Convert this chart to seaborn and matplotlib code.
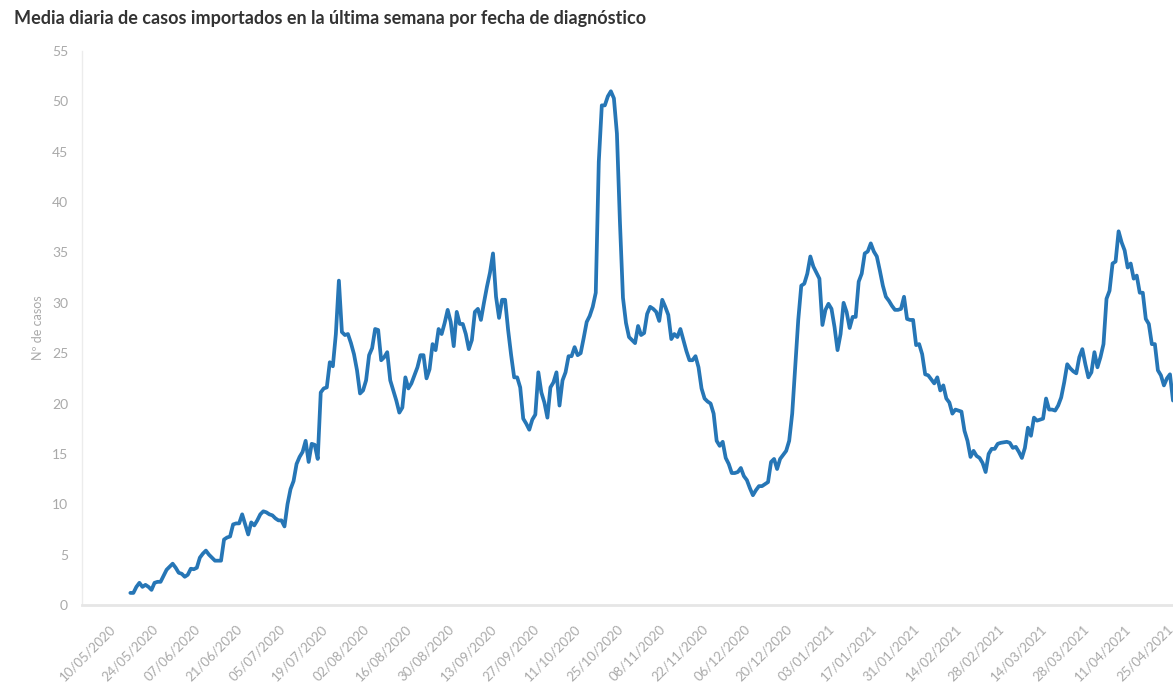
import pandas as pd
import numpy as np
import matplotlib
matplotlib.use('Agg')
import matplotlib.pyplot as plt
import matplotlib.dates as mdates
import seaborn as sns

# --- datos (media diaria de casos importados, 7 días) ---
first_day = '2020-05-17'
cases = [
    1.2, 1.2, 1.8, 2.2, 1.8, 2.0, 1.8, 1.5, 2.2, 2.3,
    2.3, 2.9, 3.5, 3.8, 4.1, 3.7, 3.2, 3.1, 2.8, 3.0,
    3.6, 3.55, 3.7, 4.7, 5.1, 5.4, 5.0, 4.7, 4.4, 4.4,
    4.4, 6.5, 6.7, 6.8, 8.0, 8.1, 8.1, 9.0, 8.0, 7.0,
    8.2, 7.9, 8.4, 9.0, 9.3, 9.2, 9.0, 8.9, 8.6, 8.4,
    8.4, 7.8, 10.0, 11.5, 12.3, 14.0, 14.7, 15.2, 16.3, 14.2,
    16.0, 15.9, 14.5, 21.1, 21.5, 21.6, 24.1, 23.7, 26.9, 32.2,
    27.1, 26.8, 26.9, 26.0, 24.9, 23.3, 21.0, 21.3, 22.3, 24.8,
    25.5, 27.4, 27.3, 24.3, 24.6, 25.1, 22.3, 21.3, 20.3, 19.1,
    19.6, 22.6, 21.5, 22.0, 22.8, 23.6, 24.8, 24.8, 22.5, 23.4,
    25.9, 25.3, 27.4, 26.9, 28.0, 29.3, 28.1, 25.7, 29.1, 27.9,
    27.9, 26.9, 25.4, 26.3, 29.1, 29.4, 28.3, 30.0, 31.6, 33.0,
    34.9, 30.6, 28.5, 30.3, 30.3, 27.3, 24.8, 22.6, 22.6, 21.6,
    18.5, 18.0, 17.4, 18.4, 18.9, 23.1, 21.1, 20.1, 18.6, 21.6,
    22.1, 23.1, 19.8, 22.3, 23.1, 24.7, 24.7, 25.6, 24.8, 25.0,
    26.5, 28.1, 28.7, 29.6, 31.0, 44.0, 49.6, 49.6, 50.5, 51.0,
    50.3, 46.8, 38.0, 30.5, 28.0, 26.6, 26.3, 26.0, 27.7, 26.8,
    27.0, 28.9, 29.6, 29.4, 29.1, 28.2, 30.3, 29.6, 28.8, 26.4,
    26.9, 26.6, 27.4, 26.3, 25.2, 24.3, 24.3, 24.7, 23.6, 21.5,
    20.5, 20.2, 20.0, 19.0, 16.3, 15.8, 16.2, 14.6, 14.0, 13.1,
    13.1, 13.2, 13.6, 12.8, 12.4, 11.6, 10.9, 11.4, 11.8, 11.8,
    12.0, 12.2, 14.2, 14.5, 13.5, 14.5, 14.9, 15.3, 16.3, 19.0,
    23.6, 28.3, 31.7, 31.9, 32.9, 34.6, 33.6, 33.0, 32.4, 27.8,
    29.3, 29.9, 29.4, 27.6, 25.3, 26.9, 30.0, 29.1, 27.5, 28.6,
    28.6, 32.1, 32.9, 34.9, 35.1, 35.9, 35.1, 34.6, 33.2, 31.7,
    30.6, 30.2, 29.7, 29.3, 29.3, 29.4, 30.6, 28.4, 28.3, 28.3,
    25.8, 25.9, 24.9, 22.9, 22.8, 22.4, 22.0, 22.6, 21.3, 21.8,
    20.5, 20.1, 19.0, 19.4, 19.3, 19.2, 17.3, 16.3, 14.7, 15.3,
    14.8, 14.6, 14.1, 13.2, 15.0, 15.5, 15.5, 16.0, 16.1, 16.15,
    16.2, 16.1, 15.6, 15.7, 15.2, 14.6, 15.6, 17.6, 16.8, 18.6,
    18.3, 18.4, 18.5, 20.5, 19.4, 19.4, 19.3, 19.8, 20.6, 22.1,
    23.9, 23.5, 23.2, 23.0, 24.6, 25.4, 23.9, 22.6, 23.1, 25.1,
    23.6, 24.6, 25.9, 30.4, 31.2, 33.9, 34.1, 37.1, 36.0, 35.2,
    33.5, 33.9, 32.4, 32.7, 31.0, 31.0, 28.4, 27.9, 25.9, 25.9,
    23.3, 22.8, 21.8, 22.5, 22.9, 20.3,
]
label_ticks = pd.date_range('2020-05-10', '2021-04-25', freq='14D')
week_ticks = pd.date_range('2020-05-03', '2021-04-25', freq='7D')
y_ticks = list(range(0, 60, 5))

df = pd.DataFrame({
    'fecha': pd.date_range(first_day, periods=len(cases), freq='D'),
    'casos': cases,
})

sns.set_theme(style='white')
plt.rcParams['font.family'] = ['Lato', 'DejaVu Sans']

fig = plt.figure(figsize=(11.73, 6.90), dpi=100)
ax = fig.add_axes([0.0699, 0.1232, 0.9301, 0.8029])

sns.lineplot(data=df, x='fecha', y='casos', ax=ax, color='#2676b6', linewidth=2.7,
             solid_joinstyle='round', solid_capstyle='round')

grey = '#a9a9a9'
ax.set_xlim(pd.Timestamp('2020-05-01'), pd.Timestamp('2021-04-27'))
ax.set_ylim(0, 55)
ax.set_yticks(y_ticks)
ax.set_xticks(label_ticks)
ax.set_xticks(week_ticks, minor=True)
ax.xaxis.set_major_formatter(mdates.DateFormatter('%d/%m/%Y'))
plt.setp(ax.get_xticklabels(), rotation=45, ha='right', rotation_mode='anchor')
ax.tick_params(axis='x', which='both', length=7, width=1, color='#e3e3e3',
               labelsize=9.5, labelcolor=grey, pad=6)
ax.tick_params(axis='y', length=6, width=1, color='#e3e3e3', labelsize=10,
               labelcolor=grey, pad=4)
ax.set_xlabel('')
ax.set_ylabel('Nº de casos', fontsize=9, color=grey, labelpad=6)

for side in ['top', 'right']:
    ax.spines[side].set_visible(False)
ax.spines['left'].set_color('#ececec')
ax.spines['left'].set_linewidth(1)
ax.spines['bottom'].set_color('#e6e6e6')
ax.spines['bottom'].set_linewidth(2)

fig.text(0.012, 0.985, 'Media diaria de casos importados en la última semana por fecha de diagnóstico',
         fontsize=13, fontweight='bold', color='#333333', va='top', ha='left')

fig.savefig('out.png', dpi=100)
